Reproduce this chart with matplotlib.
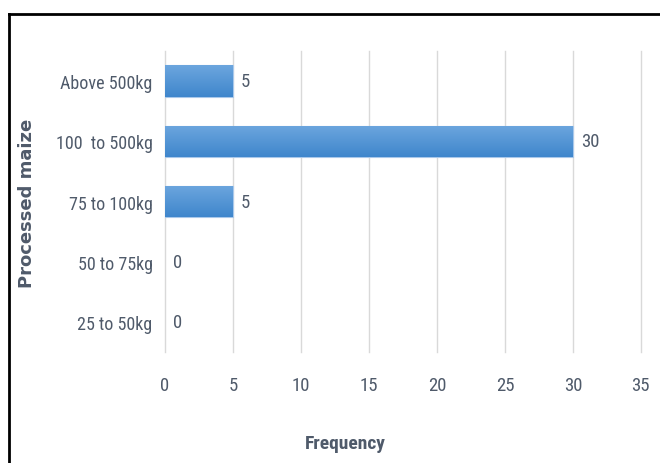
import matplotlib
matplotlib.use("Agg")
import matplotlib.pyplot as plt
import numpy as np
from matplotlib.lines import Line2D
from matplotlib import font_manager

categories = ["25 to 50kg", "50 to 75kg", "75 to 100kg", "100  to 500kg", "Above 500kg"]
frequency = [0, 0, 5, 30, 5]
x_ticks = [0, 5, 10, 15, 20, 25, 30, 35]

names = {f.name for f in font_manager.fontManager.ttflist}
narrow = next((n for n in ["Roboto Condensed", "Open Sans Condensed", "Archivo Narrow",
                           "Asap Condensed", "DejaVu Sans"] if n in names), "DejaVu Sans")

text_color = "#4f5a6a"
fig = plt.figure(figsize=(6.6, 4.64), dpi=100)
ax = fig.add_axes([0.25, 1 - 353 / 464, 0.971 - 0.25, (353 - 52) / 464])

y = np.arange(len(categories))
bars = ax.barh(y, frequency, height=0.52, color="#5b9bd5", edgecolor="#a9c8ea",
               linewidth=0.8, zorder=2)

# vertical gradient fill for each bar
grad = np.linspace(0, 1, 64).reshape(-1, 1)
cmap = matplotlib.colors.LinearSegmentedColormap.from_list("bluegrad", ["#3f86cc", "#6ca6de"])
for b in bars:
    if b.get_width() <= 0:
        b.set_linewidth(0)
        continue
    x0, y0 = b.get_x(), b.get_y()
    w, h = b.get_width(), b.get_height()
    im = ax.imshow(grad, cmap=cmap, aspect="auto", extent=[x0, x0 + w, y0, y0 + h],
                   origin="lower", zorder=3)
    im.set_clip_path(b)

for yi, v in zip(y, frequency):
    ax.text(v + 0.6, yi, f"{v}", va="center", ha="left", fontsize=13.5,
            family=narrow, color=text_color, zorder=4)

ax.set_xlim(0, 35)
ax.set_ylim(-0.5, len(categories) - 0.5)
ax.set_xticks(x_ticks)
ax.set_xticklabels([str(t) for t in x_ticks], family=narrow, fontsize=13.5,
                   color=text_color)
ax.set_yticks(y)
ax.set_yticklabels(categories, family=narrow, fontsize=13, color=text_color)
ax.tick_params(axis="both", length=0)
ax.tick_params(axis="x", pad=17)
ax.tick_params(axis="y", pad=9)
ax.grid(axis="x", color="#d9d9d9", linewidth=1, zorder=0)
for gl in ax.get_xgridlines():
    gl.set_clip_on(False)
ax.set_axisbelow(True)
for s in ax.spines.values():
    s.set_visible(False)

fig.text(345 / 660, 1 - 444 / 464, "Frequency", family=narrow, fontsize=14,
         fontweight="bold", color=text_color, ha="center", va="center")
fig.text(27 / 660, 1 - 203 / 464, "Processed maize", rotation=90, ha="center", va="center",
         fontsize=13, fontweight="bold", color=text_color)

# outer frame
fig.add_artist(Line2D([9 / 660, 1.0], [1 - 15 / 464, 1 - 15 / 464], color="black", lw=2,
                      transform=fig.transFigure))
fig.add_artist(Line2D([9 / 660, 9 / 660], [1 - 15 / 464, 0.0], color="black", lw=2,
                      transform=fig.transFigure))

fig.savefig("out.png", dpi=100)
